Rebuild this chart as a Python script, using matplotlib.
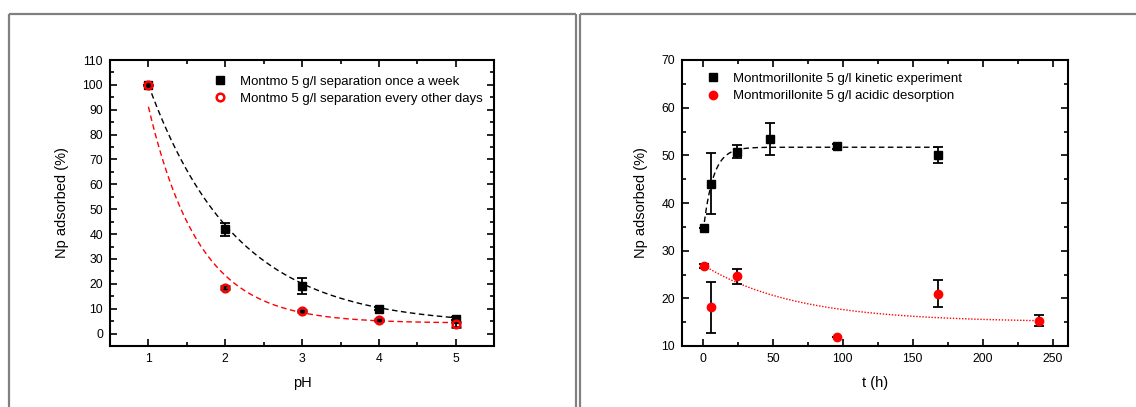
import numpy as np
import matplotlib
matplotlib.use("Agg")
import matplotlib.pyplot as plt
from matplotlib.lines import Line2D
from matplotlib.ticker import MultipleLocator

plt.rcParams['font.family'] = ['Liberation Sans', 'DejaVu Sans']

# ---- pH series (left) ----
ph = [1, 2, 3, 4, 5]
week_ads = [100.0, 41.9, 19.1, 10.0, 6.0]
week_err = [0.0, 2.7, 3.2, 0.6, 0.6]
other_ads = [100.0, 18.5, 9.1, 5.6, 3.7]
other_err = [0.0, 0.5, 0.5, 0.4, 0.9]
label_week = "Montmo 5 g/l separation once a week"
label_other = "Montmo 5 g/l separation every other days"

# exponential decay fits: y = y0 + A * r**(pH - 1)
fit_week = dict(y0=3.5, A=96.5, r=0.415)
fit_other = dict(y0=4.2, A=87.0, r=0.22)

# ---- time series (right) ----
t_kin = [1, 6, 24, 48, 96, 168]
kin_ads = [34.7, 44.0, 50.8, 53.4, 51.9, 50.1]
kin_err = [0.0, 6.4, 1.4, 3.3, 0.5, 1.7]
t_des = [1, 6, 24, 96, 168, 240]
des_ads = [26.8, 18.1, 24.6, 11.8, 21.0, 15.3]
des_err = [0.5, 5.4, 1.5, 0.0, 2.9, 1.2]
label_kin = "Montmorillonite 5 g/l kinetic experiment"
label_des = "Montmorillonite 5 g/l acidic desorption"

# exponential fits: rise y = ymax - A*exp(-t/tau), decay y = y0 + A*exp(-t/tau)
fit_kin = dict(ymax=51.7, A=18.1, tau=7.0)
fit_des = dict(y0=15.0, A=12.0, tau=66.0)

W, H = 1136, 407
fig = plt.figure(figsize=(W / 100, H / 100), dpi=100)
fig.patch.set_facecolor('white')


def px_axes(x0, x1, y0, y1):
    return fig.add_axes([x0 / W, 1 - y1 / H, (x1 - x0) / W, (y1 - y0) / H])


def style_axes(ax):
    for s in ax.spines.values():
        s.set_linewidth(1.5)
        s.set_color('black')
    ax.tick_params(which='both', direction='in', top=True, right=True,
                   labelsize=8.8, colors='black', width=1.2)
    ax.tick_params(which='major', length=5, pad=5)
    ax.tick_params(which='minor', length=3)


# panel frames
frame_kw = dict(color='#808080', lw=1.6, solid_capstyle='butt')
def fig_line(xs, ys):
    fig.add_artist(Line2D([x / W for x in xs], [1 - y / H for y in ys], **frame_kw))

fig_line([8.5, 8.5], [420, 13.5])
fig_line([8.5, 575.5], [13.5, 13.5])
fig_line([575.5, 575.5], [13.5, 420])
fig_line([580, 580], [420, 13.5])
fig_line([580, 1140], [13.5, 13.5])

err_kw = dict(ecolor='black', elinewidth=1.3, capsize=3.3, capthick=1.3, linestyle='none')
leg_kw = dict(loc='upper left', frameon=False, fontsize=9.5, handlelength=1.0,
              handletextpad=1.0, labelspacing=0.4, borderaxespad=0)

# ---- left panel ----
ax1 = px_axes(110, 494.3, 60, 346)
style_axes(ax1)
xf = np.linspace(1, 5, 200)
ax1.plot(xf, fit_week['y0'] + fit_week['A'] * fit_week['r'] ** (xf - 1),
         color='black', lw=1.0, dashes=(4, 2.5))
ax1.plot(xf, fit_other['y0'] + fit_other['A'] * fit_other['r'] ** (xf - 1),
         color='red', lw=1.0, dashes=(4, 2.5))
ax1.errorbar(ph, week_ads, yerr=week_err, marker='s', ms=5.5, mfc='black',
             mec='black', label=label_week, **err_kw)
ax1.errorbar(ph, other_ads, yerr=other_err, marker='o', ms=5.5, mfc='none',
             mec='red', mew=1.8, label=label_other, **err_kw)
ax1.set_xlim(0.5, 5.5)
ax1.set_ylim(-5, 110)
ax1.xaxis.set_major_locator(MultipleLocator(1))
ax1.xaxis.set_minor_locator(MultipleLocator(0.5))
ax1.yaxis.set_major_locator(MultipleLocator(10))
ax1.yaxis.set_minor_locator(MultipleLocator(5))
ax1.set_xlabel("pH", fontsize=10.5, labelpad=8)
ax1.set_ylabel("Np adsorbed (%)", fontsize=10.5, labelpad=10)
h, l = ax1.get_legend_handles_labels()
h = [hh[0] for hh in h]
ax1.legend(h, l, bbox_to_anchor=(0.255, 0.965), **leg_kw)

# ---- right panel ----
ax2 = px_axes(682, 1068, 60, 346)
style_axes(ax2)
tf = np.linspace(1, 168, 300)
ax2.plot(tf, fit_kin['ymax'] - fit_kin['A'] * np.exp(-tf / fit_kin['tau']),
         color='black', lw=1.0, dashes=(4, 2.5))
tf2 = np.linspace(1, 240, 300)
ax2.plot(tf2, fit_des['y0'] + fit_des['A'] * np.exp(-tf2 / fit_des['tau']),
         color='red', lw=1.0, dashes=(1, 1.2))
ax2.errorbar(t_kin, kin_ads, yerr=kin_err, marker='s', ms=5.5, mfc='black',
             mec='black', label=label_kin, **err_kw)
ax2.errorbar(t_des, des_ads, yerr=des_err, marker='o', ms=6, mfc='red',
             mec='red', label=label_des, **err_kw)
ax2.set_xlim(-15, 261)
ax2.set_ylim(10, 70)
ax2.xaxis.set_major_locator(MultipleLocator(50))
ax2.xaxis.set_minor_locator(MultipleLocator(25))
ax2.yaxis.set_major_locator(MultipleLocator(10))
ax2.yaxis.set_minor_locator(MultipleLocator(5))
ax2.set_xlabel("t (h)", fontsize=10.5, labelpad=8)
ax2.set_ylabel("Np adsorbed (%)", fontsize=10.5, labelpad=10)
h, l = ax2.get_legend_handles_labels()
h = [hh[0] for hh in h]
ax2.legend(h, l, bbox_to_anchor=(0.05, 0.975), **leg_kw)

fig.savefig("out.png", dpi=100)
